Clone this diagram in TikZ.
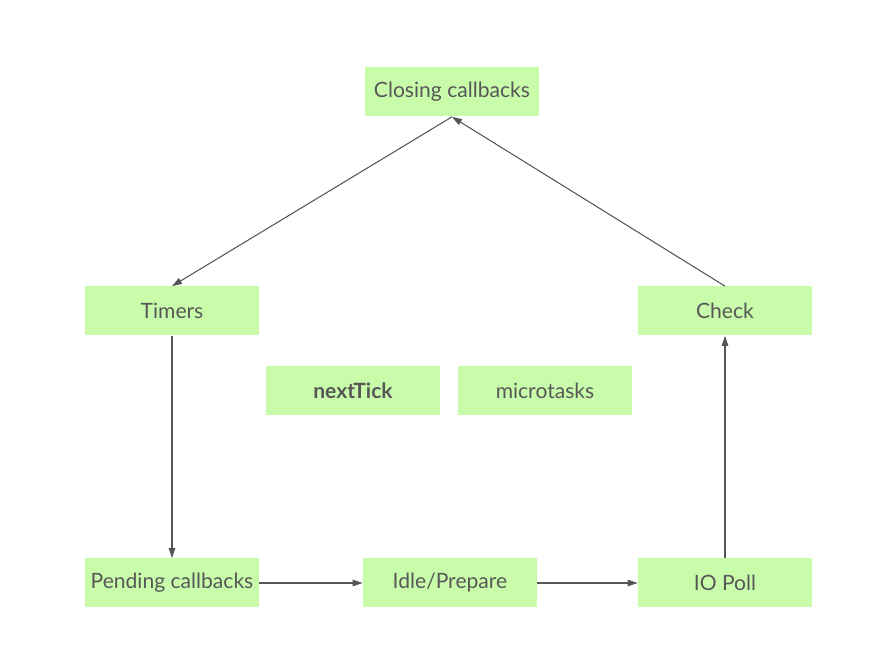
\documentclass[tikz,border=0pt]{standalone}
\usepackage{fontspec}
\setmainfont{Lato}
\usepackage{xcolor}
\usepackage{tikz}
\usetikzlibrary{positioning,arrows.meta,shapes.geometric}

\definecolor{fasegreen}{RGB}{200,252,170}
\definecolor{fasetext}{RGB}{88,88,88}
\definecolor{fasearrow}{RGB}{85,85,85}

\tikzset{
  fase/.style={rectangle, fill=fasegreen, text=fasetext, minimum width=3.48cm, minimum height=0.98cm, inner sep=0pt, font=\fontsize{12}{14}\selectfont},
  freccia/.style={draw=fasearrow, line width=0.6pt, -{Triangle[length=2mm, width=1.3mm]}}
}

\begin{document}
\begin{tikzpicture}
    \useasboundingbox (0,0) rectangle (17.66,12.96);

    %fasi del ciclo
    \node[fase] (closing) at (9.04, 11.12) {Closing callbacks};
    \node[fase] (timers) at (3.44, 6.74) {Timers};
    \node[fase] (check) at (14.5, 6.74) {Check};
    \node[fase] (pending) at (3.44, 1.30) {Pending callbacks};
    \node[fase] (idle) at (9.0, 1.30) {Idle/Prepare};
    \node[fase] (iopoll) at (14.5, 1.30) {IO Poll};

    %code in mezzo
    \node[fase, font=\fontsize{12}{14}\selectfont\bfseries] (nexttick) at (7.06, 5.14) {nextTick};
    \node[fase] (microtasks) at (10.9, 5.14) {microtasks};

    %frecce
    \draw[freccia] (closing.south) -- (timers.north);
    \draw[freccia] (timers.south) -- (pending.north);
    \draw[freccia] (pending.east) -- (idle.west);
    \draw[freccia] (idle.east) -- (iopoll.west);
    \draw[freccia] (iopoll.north) -- (check.south);
    \draw[freccia] (check.north) -- (closing.south);

\end{tikzpicture}
\end{document}
